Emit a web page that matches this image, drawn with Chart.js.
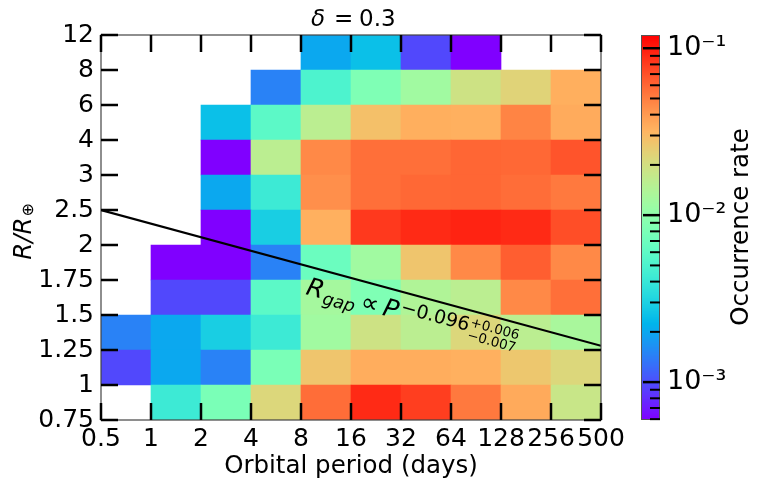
<!DOCTYPE html>
<html><head><meta charset="utf-8">
<script src="https://cdn.jsdelivr.net/npm/chart.js@4/dist/chart.umd.min.js"></script>
<style>html,body{margin:0;padding:0;background:#fff}</style>
</head><body>
<canvas id="c" width="762" height="483"></canvas>
<script>
// Bin edges (tick labels)
const periodEdges = ['0.5','1','2','4','8','16','32','64','128','256','500'];
const radiusEdges = ['0.75','1','1.25','1.5','1.75','2','2.5','3','4','6','8','12'];

// Occurrence rate per cell, columns = period bins (0.5-1 ... 256-500); null = empty
const rate_r075_1  = [null, 4.2e-3, 8.0e-3, 2.2e-2, 5.7e-2, 9.1e-2, 7.9e-2, 5.2e-2, 3.5e-2, 1.8e-2];
const rate_r1_125  = [9.6e-4, 2.0e-3, 1.46e-3, 8.0e-3, 2.7e-2, 3.4e-2, 3.4e-2, 3.3e-2, 2.65e-2, 2.2e-2];
const rate_r125_15 = [1.46e-3, 2.0e-3, 2.9e-3, 4.2e-3, 1.19e-2, 1.9e-2, 1.56e-2, 2.2e-2, 1.56e-2, 1.3e-2];
const rate_r15_175 = [null, 9.6e-4, 9.6e-4, 5.8e-3, 1.25e-2, 8.4e-3, 1.4e-2, 1.56e-2, 4.6e-2, 5.6e-2];
const rate_r175_2  = [null, 5.93e-4, 5.93e-4, 1.46e-3, 6.8e-3, 1.19e-2, 2.7e-2, 4.6e-2, 6.35e-2, 4.6e-2];
const rate_r2_25   = [null, null, 5.93e-4, 2.9e-3, 3.3e-2, 8.2e-2, 9.1e-2, 9.5e-2, 9.1e-2, 7.1e-2];
const rate_r25_3   = [null, null, 2.0e-3, 4.2e-3, 4.4e-2, 5.6e-2, 5.9e-2, 6.0e-2, 5.7e-2, 5.2e-2];
const rate_r3_4    = [null, null, 5.93e-4, 1.56e-2, 4.6e-2, 5.6e-2, 5.6e-2, 6.0e-2, 5.9e-2, 6.8e-2];
const rate_r4_6    = [null, null, 2.5e-3, 5.8e-3, 1.56e-2, 2.85e-2, 3.35e-2, 3.3e-2, 4.8e-2, 3.45e-2];
const rate_r6_8    = [null, null, null, 1.46e-3, 5.0e-3, 8.4e-3, 1.19e-2, 1.9e-2, 2.3e-2, 3.35e-2];
const rate_r8_12   = [null, null, null, null, 2.0e-3, 2.5e-3, 9.6e-4, 5.93e-4, null, null];
const rows = [rate_r075_1, rate_r1_125, rate_r125_15, rate_r15_175, rate_r175_2, rate_r2_25,
              rate_r25_3, rate_r3_4, rate_r4_6, rate_r6_8, rate_r8_12];

// Colour scale range (log)
const colorMin = 5.93e-4, colorMax = 0.120;
const colorbarMajor = [1e-3, 1e-2, 1e-1];

// Fit line R_gap ∝ P^-0.096 (endpoints in physical units)
const fitP = [0.5, 500];
const fitR = [2.5, 1.28];

// ---------------------------------------------------------------
const periodNums = periodEdges.map(Number), radiusNums = radiusEdges.map(Number);
function edgeIndex(v, edges){
  for (let i = 0; i < edges.length - 1; i++) {
    if (v <= edges[i+1]) return i + (v - edges[i]) / (edges[i+1] - edges[i]);
  }
  return edges.length - 1;
}
function rainbow(t){
  t = Math.max(0, Math.min(1, t));
  const r = Math.min(1, Math.abs(2*t - 0.5)), g = Math.sin(Math.PI*t), b = Math.cos(Math.PI*t/2);
  return `rgb(${Math.round(r*255)},${Math.round(g*255)},${Math.round(b*255)})`;
}
const lmin = Math.log10(colorMin), lmax = Math.log10(colorMax);
function colorFor(v){ return rainbow((Math.log10(v) - lmin) / (lmax - lmin)); }

const FONT = 'DejaVu Sans';
Chart.defaults.font.family = FONT;
Chart.defaults.color = '#000';

const datasets = rows.map((row, r) => ({
  type: 'bar',
  data: row.map((v, i) => v == null ? null : {x: i + 0.5, y: [r, r + 1], v}).filter(Boolean),
  backgroundColor: ctx => ctx.raw ? colorFor(ctx.raw.v) : 'rgba(0,0,0,0)',
  borderWidth: 0, barPercentage: 1, categoryPercentage: 1, grouped: false, order: 2
}));
datasets.push({
  type: 'line',
  data: fitP.map((p, i) => ({x: edgeIndex(p, periodNums), y: edgeIndex(fitR[i], radiusNums)})),
  borderColor: '#000', borderWidth: 2.2, pointRadius: 0, fill: false, order: 0
});

const sup = {'0':'⁰','1':'¹','2':'²','3':'³','4':'⁴','5':'⁵','6':'⁶','7':'⁷','8':'⁸','9':'⁹','-':'⁻'};
function powLabel(v){
  const e = Math.log10(v);
  if (Math.abs(e - Math.round(e)) > 1e-6) return '';
  return '10' + String(Math.round(e)).split('').map(ch => sup[ch]).join('');
}

function drawRuns(ctx, runs, x, y){
  let cx = x;
  for (const [t, f, dy, adv] of runs) {
    ctx.font = f;
    ctx.fillText(t, cx, y + dy);
    cx += ctx.measureText(t).width + (adv || 0);
  }
  return cx;
}

const deco = {
  id: 'deco',
  afterDatasetsDraw(chart){
    const {ctx, chartArea: a, scales: {x, y}} = chart;
    ctx.save();
    // annotation along the fit line
    const p0x = x.getPixelForValue(edgeIndex(fitP[0], periodNums)), p0y = y.getPixelForValue(edgeIndex(fitR[0], radiusNums));
    const p1x = x.getPixelForValue(edgeIndex(fitP[1], periodNums)), p1y = y.getPixelForValue(edgeIndex(fitR[1], radiusNums));
    const ang = Math.atan2(p1y - p0y, p1x - p0x);
    ctx.translate(x.getPixelForValue(4.08), y.getPixelForValue(3.6));
    ctx.rotate(ang);
    ctx.fillStyle = '#000';
    ctx.textBaseline = 'alphabetic'; ctx.textAlign = 'left';
    let cx = drawRuns(ctx, [
      ['R', `italic 25px ${FONT}`, 0, 1],
      ['gap', `italic 17.5px ${FONT}`, 5, 5],
      ['∝', `25px ${FONT}`, 0, 5],
      ['P', `italic 25px ${FONT}`, 0, 2],
      ['−0.096', `19px ${FONT}`, -7, 1]
    ], 0, 0);
    ctx.font = `13.5px ${FONT}`;
    ctx.fillText('+0.006', cx, -12);
    ctx.fillText('−0.007', cx, 1);
    ctx.restore();

    ctx.save();
    // frame
    ctx.strokeStyle = '#444'; ctx.lineWidth = 1.2;
    ctx.strokeRect(a.left, a.top, a.right - a.left, a.bottom - a.top);
    // inward ticks on all four sides
    ctx.strokeStyle = '#000'; ctx.lineWidth = 2.5; ctx.lineCap = 'butt';
    const L = 17;
    ctx.beginPath();
    x.ticks.forEach(t => {
      const px = x.getPixelForValue(t.value);
      ctx.moveTo(px, a.bottom); ctx.lineTo(px, a.bottom - L);
      ctx.moveTo(px, a.top); ctx.lineTo(px, a.top + L);
    });
    y.ticks.forEach(t => {
      const py = y.getPixelForValue(t.value);
      ctx.moveTo(a.left, py); ctx.lineTo(a.left + L, py);
      ctx.moveTo(a.right, py); ctx.lineTo(a.right - L, py);
    });
    ctx.stroke();
    ctx.restore();
  },
  afterDraw(chart){
    const {ctx, chartArea: a, scales: {c}} = chart;
    ctx.save();
    // colour bar
    const bx0 = 641, bx1 = 660;
    const top = c.getPixelForValue(colorMax), bot = c.getPixelForValue(colorMin);
    for (let py = Math.floor(top); py < Math.ceil(bot); py++) {
      const v = c.getValueForPixel(py + 0.5);
      ctx.fillStyle = rainbow((Math.log10(v) - lmin) / (lmax - lmin));
      ctx.fillRect(bx0, py, bx1 - bx0, 1);
    }
    ctx.strokeStyle = '#555'; ctx.lineWidth = 1;
    ctx.strokeRect(bx0 + 0.5, top + 0.5, bx1 - bx0 - 1, bot - top - 1);
    ctx.strokeStyle = '#000';
    for (let e = -4; e <= -1; e++) {
      for (let m = 1; m <= 9; m++) {
        const v = m * Math.pow(10, e);
        if (v <= colorMin || v >= colorMax) continue;
        const py = c.getPixelForValue(v);
        const major = colorbarMajor.some(mv => Math.abs(mv - v) / mv < 1e-9);
        ctx.lineWidth = major ? 2.5 : 2;
        ctx.beginPath();
        ctx.moveTo(bx1, py); ctx.lineTo(major ? bx1 - 17 : bx1 - 10, py);
        ctx.stroke();
      }
    }
    // texts
    ctx.fillStyle = '#000';
    ctx.textBaseline = 'alphabetic';
    ctx.textAlign = 'left';
    const cxm = (a.left + a.right) / 2;
    // title (δ = 0.3)
    ctx.font = `italic 23px ${FONT}`;
    ctx.fillText('δ', cxm - 40, 26);
    ctx.font = `23px ${FONT}`;
    ctx.fillText('=', cxm - 17, 26);
    ctx.fillText('0.3', cxm + 8, 26);
    // x title
    ctx.textAlign = 'center';
    ctx.font = `24.5px ${FONT}`;
    ctx.fillText('Orbital period (days)', cxm, 472.5);
    // y title
    ctx.save();
    ctx.translate(31, 231.5); ctx.rotate(-Math.PI / 2);
    ctx.textAlign = 'left';
    ctx.font = `italic 24.5px ${FONT}`;
    const wr = ctx.measureText('R/R').width;
    ctx.font = `16px ${FONT}`;
    const wo = ctx.measureText('⊕').width;
    const tot = wr + wo + 1;
    drawRuns(ctx, [['R/R', `italic 24.5px ${FONT}`, 0, 1], ['⊕', `16px ${FONT}`, 2, 0]], -tot / 2, 0);
    ctx.restore();
    // colour bar label
    ctx.save();
    ctx.translate(748, 227); ctx.rotate(-Math.PI / 2);
    ctx.textAlign = 'center';
    ctx.font = `24.5px ${FONT}`;
    ctx.fillText('Occurrence rate', 0, 0);
    ctx.restore();
    ctx.restore();
  }
};

new Chart(document.getElementById('c'), {
  type: 'bar',
  data: {datasets},
  plugins: [deco],
  options: {
    responsive: false, animation: false, events: [],
    layout: {padding: {top: 35, left: 0, right: 0, bottom: 0}},
    plugins: {legend: {display: false}, tooltip: {enabled: false}, title: {display: false}},
    scales: {
      x: {
        type: 'linear', min: 0, max: 10, offset: false,
        grid: {display: false, drawTicks: false, offset: false}, border: {display: false},
        ticks: {stepSize: 1, autoSkip: false, maxRotation: 0, minRotation: 0, maxTicksLimit: 50,
                padding: 4, font: {size: 25}, color: '#000',
                callback: v => periodEdges[Math.round(v)] ?? ''},
        afterFit: s => { s.height = 63; }
      },
      y: {
        type: 'linear', min: 0, max: 11,
        grid: {display: false, drawTicks: false}, border: {display: false},
        ticks: {stepSize: 1, autoSkip: false, maxTicksLimit: 50, padding: 7, font: {size: 25}, color: '#000',
                callback: v => radiusEdges[Math.round(v)] ?? ''},
        afterFit: s => { s.width = 101; }
      },
      c: {
        type: 'logarithmic', position: 'right', min: colorMin, max: colorMax,
        grid: {display: true, drawOnChartArea: false, drawTicks: true, tickLength: 60, tickColor: 'rgba(0,0,0,0)', color: 'rgba(0,0,0,0)'},
        border: {display: false},
        ticks: {autoSkip: false, padding: 6, font: {size: 27}, color: '#000', callback: v => powLabel(v)},
        afterFit: s => { s.width = 161; }
      }
    }
  }
});
</script>
</body></html>
